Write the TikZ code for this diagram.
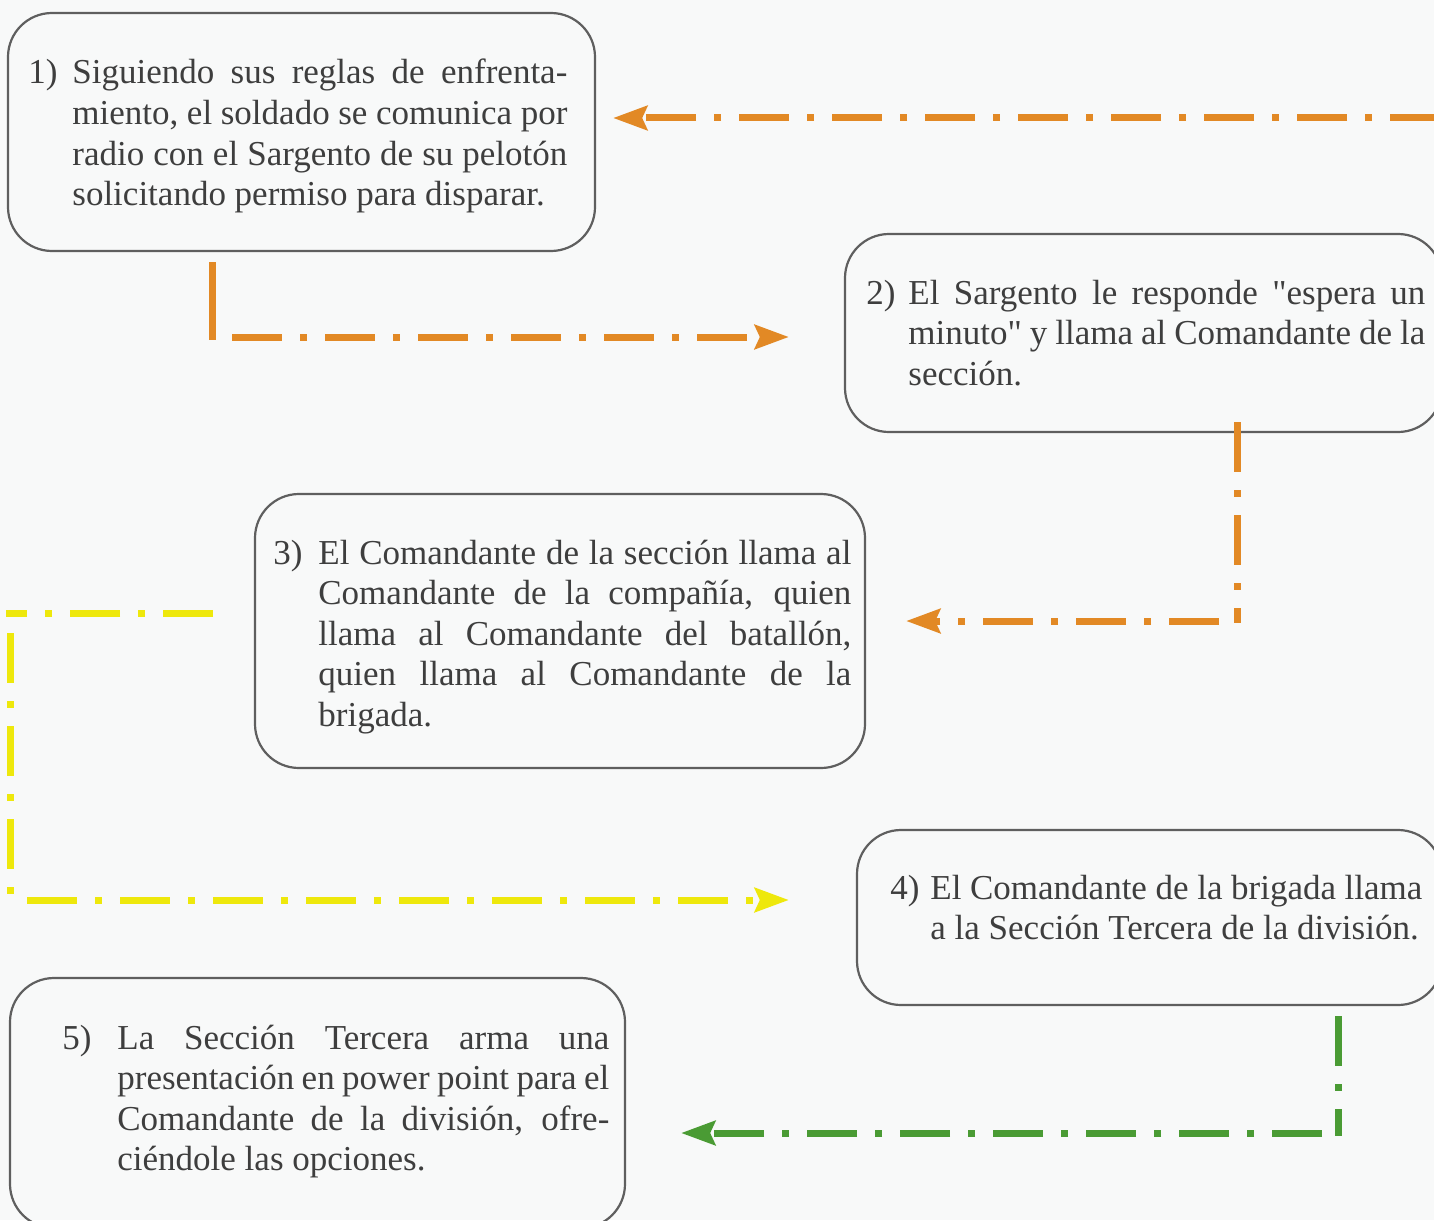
\documentclass[tikz,border=0pt]{standalone}
\usepackage{fontspec}
\setmainfont{Liberation Serif}
\newfontface\qfont{Liberation Serif}[Ligatures=TeXOff]
\usetikzlibrary{arrows.meta}
\definecolor{bgc}{RGB}{248,249,249}
\definecolor{boxc}{RGB}{95,95,95}
\definecolor{txtc}{RGB}{62,62,62}
\definecolor{orc}{RGB}{226,137,37}
\definecolor{yec}{RGB}{238,232,12}
\definecolor{grc}{RGB}{74,155,52}
\newcommand{\nlbl}[2]{\makebox[#1][l]{#2}}
\newcommand{\fline}[2]{\makebox[#1][s]{#2}}
\newcommand{\sq}{{\qfont\symbol{34}}}
\begin{document}
\begin{tikzpicture}[x=0.5pt,y=-0.5pt,
  stepbox/.style={draw=boxc, line width=1.1pt, rounded corners=22pt, inner sep=0pt},
  txt/.style={anchor=base west, inner sep=0pt, text=txtc, font=\fontsize{17.5}{20.3}\selectfont},
  conn/.style={line width=3.5pt, dash pattern=on 25pt off 9pt on 3.5pt off 9pt},
  solidconn/.style={line width=3.5pt},
  arr/.style={-{Stealth[length=17pt,width=12pt,inset=2.5pt]}}]
\path[use as bounding box, fill=bgc] (0,0) rectangle (1434,1220);
\clip (0,0) rectangle (1434,1220);

% boxes
\node[stepbox, minimum width=293.5pt, minimum height=119pt] (b1) at (301.5,132) {};
\node[stepbox, minimum width=298.5pt, minimum height=99pt] (b2) at (1143.5,333) {};
\node[stepbox, minimum width=305pt, minimum height=137pt] (b3) at (560,631) {};
\node[stepbox, minimum width=292.5pt, minimum height=87.5pt] (b4) at (1149.5,917.5) {};
\node[stepbox, minimum width=307.5pt, minimum height=125pt] (b5) at (317.5,1103) {};

% texts
\node[txt] (t1) at (28,84) {\parbox[t]{269.5pt}{\nlbl{22pt}{1)}\fline{247.5pt}{Siguiendo sus reglas de enfrenta-}\\
\hspace*{22pt}\fline{247.5pt}{miento, el soldado se comunica por}\\
\hspace*{22pt}\fline{247.5pt}{radio con el Sargento de su pelotón}\\
\hspace*{22pt}solicitando permiso para disparar.}};

\node[txt] (t2) at (866,304) {\parbox[t]{279.5pt}{\nlbl{21pt}{2)}\fline{258.5pt}{El Sargento le responde \sq espera un}\\
\hspace*{21pt}\fline{258.5pt}{minuto\sq{} y llama al Comandante de la}\\
\hspace*{21pt}sección.}};

\node[txt] (t3) at (273,564) {\parbox[t]{289pt}{\nlbl{22.5pt}{3)}\fline{266.5pt}{El Comandante de la sección llama al}\\
\hspace*{22.5pt}\fline{266.5pt}{Comandante de la compañía, quien}\\
\hspace*{22.5pt}\fline{266.5pt}{llama al Comandante del batallón,}\\
\hspace*{22.5pt}\fline{266.5pt}{quien llama al Comandante de la}\\
\hspace*{22.5pt}brigada.}};

\node[txt] (t4) at (890,899) {\parbox[t]{266pt}{\nlbl{20pt}{4)}\fline{246pt}{El Comandante de la brigada llama}\\
\hspace*{20pt}a la Sección Tercera de la división.}};

\node[txt] (t5) at (62,1049) {\parbox[t]{273.5pt}{\nlbl{27.5pt}{5)}\fline{246pt}{La Sección Tercera arma una}\\
\hspace*{27.5pt}\fline{246pt}{presentación en power point para el}\\
\hspace*{27.5pt}\fline{246pt}{Comandante de la división, ofre-}\\
\hspace*{27.5pt}ciéndole las opciones.}};

% connector into box 1 (from the right edge)
\coordinate (c1s) at (1440,118);
\draw[conn, orc, arr] (c1s) -- ([xshift=8.5pt]b1.east |- c1s);

% box 1 -> box 2
\coordinate (c2a) at (212,262);
\coordinate (c2b) at (212,340);
\coordinate (c2c) at (232,337);
\draw[solidconn, orc] (c2a) -- (c2b);
\draw[conn, orc, arr] (c2c) -- ([xshift=-27.5pt]b2.west |- c2c);

% box 2 -> box 3
\coordinate (c3a) at (1237,422);
\coordinate (c3b) at (1237,623);
\coordinate (c3c) at (1219,621);
\draw[conn, orc] (c3a) -- (c3b);
\draw[conn, orc, arr] (c3c) -- ([xshift=20pt]b3.east |- c3c);

% box 3 -> box 4
\coordinate (c4a) at (213,613);
\coordinate (c4b) at (6,613);
\coordinate (c4c) at (10,633);
\coordinate (c4d) at (10,903);
\coordinate (c4e) at (27,900);
\draw[conn, yec] (c4a) -- (c4b);
\draw[conn, yec] (c4c) -- (c4d);
\draw[conn, yec, arr] (c4e) -- ([xshift=-33.5pt]b4.west |- c4e);

% box 4 -> box 5
\coordinate (c5a) at (1338,1016);
\coordinate (c5b) at (1338,1136);
\coordinate (c5c) at (1322,1133);
\draw[conn, grc] (c5a) -- (c5b);
\draw[conn, grc, arr] (c5c) -- ([xshift=27.5pt]b5.east |- c5c);
\end{tikzpicture}
\end{document}
